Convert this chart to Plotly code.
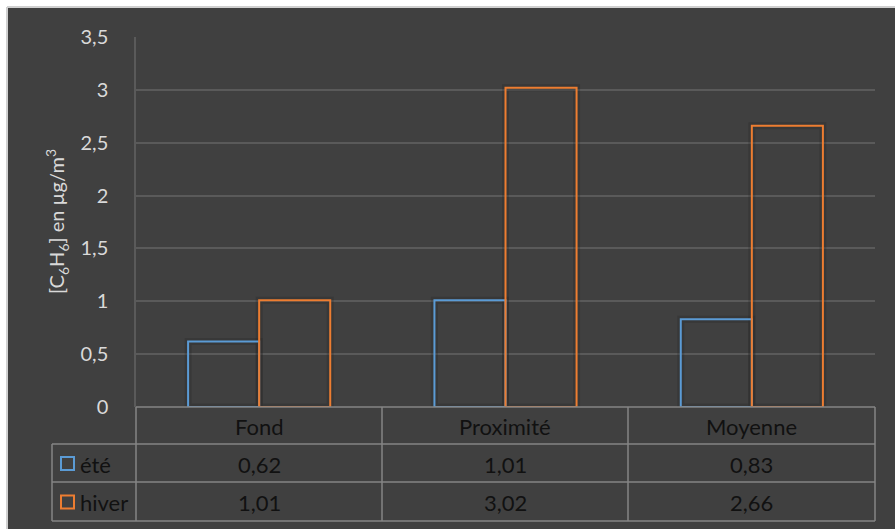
import plotly.graph_objects as go

# Benzene concentrations (µg/m³) by site type and season
categories = ["Fond", "Proximité", "Moyenne"]
series_names = ["été", "hiver"]
ete = [0.62, 1.01, 0.83]
hiver = [1.01, 3.02, 2.66]
y_ticks = [0, 0.5, 1, 1.5, 2, 2.5, 3, 3.5]

colors = {"été": "#5B9BD5", "hiver": "#ED7D31"}
values = {"été": ete, "hiver": hiver}

W, H = 895, 529
L, R, T, B = 136, 875, 37, 407  # plot-area pixel box
FONT = "Lato, 'Open Sans', sans-serif"
FS = 20
FS_TABLE = 22

def px(x):
    return (x - L) / (R - L)

def py(y):
    return (B - y) / (B - T)

fig = go.Figure()

# soft shadow behind each outlined bar
for name in series_names:
    fig.add_trace(go.Bar(
        x=categories, y=values[name], name=name + "_shadow",
        marker=dict(color="rgba(0,0,0,0)",
                    line=dict(color="rgba(35,35,35,0.28)", width=7)),
        showlegend=False, hoverinfo="skip", offsetgroup=name,
    ))

for name in series_names:
    fig.add_trace(go.Bar(
        x=categories, y=values[name], name=name,
        marker=dict(color="rgba(0,0,0,0)",
                    line=dict(color=colors[name], width=2)),
        showlegend=False, offsetgroup=name,
    ))

shapes = []
# chart background with a thin light frame on top and left
shapes.append(dict(type="rect", xref="paper", yref="paper", layer="below",
                   x0=px(7), x1=px(W + 5), y0=py(H + 5), y1=py(7),
                   fillcolor="#404040", line=dict(width=0)))
shapes.append(dict(type="line", xref="paper", yref="paper", layer="below",
                   x0=px(7), x1=px(W + 5), y0=py(7), y1=py(7),
                   line=dict(color="#d0d0d0", width=2)))
shapes.append(dict(type="line", xref="paper", yref="paper", layer="below",
                   x0=px(7), x1=px(7), y0=py(7), y1=py(H + 5),
                   line=dict(color="#d0d0d0", width=2)))

# data table grid below the axis
grid_col = "#858585"
row_y = [407, 444, 482, 521]
col_x = [136, 382, 628, 875]
for i, yy in enumerate(row_y):
    x0 = L if i == 0 else 52
    shapes.append(dict(type="line", xref="paper", yref="paper",
                       x0=px(x0), x1=px(R), y0=py(yy), y1=py(yy),
                       line=dict(color=grid_col, width=1.5)))
for xx in col_x:
    shapes.append(dict(type="line", xref="paper", yref="paper",
                       x0=px(xx), x1=px(xx), y0=py(407), y1=py(521),
                       line=dict(color=grid_col, width=1.5)))
shapes.append(dict(type="line", xref="paper", yref="paper",
                   x0=px(52), x1=px(52), y0=py(444), y1=py(521),
                   line=dict(color=grid_col, width=1.5)))

annotations = []
txt_font = dict(family=FONT, size=FS_TABLE, color="#111111")


def cell(x, y, text, xanchor="center"):
    return dict(xref="paper", yref="paper", x=px(x), y=py(y), text=text,
                xanchor=xanchor, yanchor="middle", showarrow=False,
                font=txt_font)


for j, cat in enumerate(categories):
    cx = (col_x[j] + col_x[j + 1]) / 2
    annotations.append(cell(cx, (row_y[0] + row_y[1]) / 2 + 1, cat))
for i, name in enumerate(series_names):
    cy = (row_y[i + 1] + row_y[i + 2]) / 2 + 1
    for j, v in enumerate(values[name]):
        cx = (col_x[j] + col_x[j + 1]) / 2
        annotations.append(cell(cx, cy, f"{v:.2f}".replace(".", ",")))
    # legend key square
    shapes.append(dict(type="rect", xref="paper", yref="paper",
                       x0=px(61), x1=px(74), y0=py(cy + 6), y1=py(cy - 7),
                       line=dict(color=colors[name], width=2),
                       fillcolor="rgba(0,0,0,0)"))
    annotations.append(cell(78, cy, name, xanchor="left"))

# rotated y-axis title
annotations.append(dict(xref="paper", yref="paper", x=px(57), y=py(222),
                        xanchor="center", yanchor="middle",
                        text="[C<sub>6</sub>H<sub>6</sub>] en µg/m<sup>3</sup>",
                        textangle=-90, showarrow=False,
                        font=dict(family=FONT, size=FS, color="#d9d9d9")))

fig.update_layout(
    width=W, height=H,
    margin=dict(l=L, r=W - R, t=T, b=H - B),
    paper_bgcolor="white", plot_bgcolor="rgba(0,0,0,0)",
    barmode="group", bargap=0.423, bargroupgap=0,
    separators=", ",
    shapes=shapes, annotations=annotations,
    showlegend=False,
)
fig.update_xaxes(showticklabels=False, showgrid=False, zeroline=False,
                 showline=False, fixedrange=True)
fig.update_yaxes(range=[0, 3.5], tickvals=y_ticks, showgrid=True,
                 gridcolor="#5a5a5a", gridwidth=1.5, zeroline=False,
                 showline=True, linecolor="#5a5a5a", linewidth=1.5,
                 ticks="outside", ticklen=22, tickcolor="rgba(0,0,0,0)",
                 tickfont=dict(family=FONT, size=FS, color="#d9d9d9"))

fig.write_html("out.html")
